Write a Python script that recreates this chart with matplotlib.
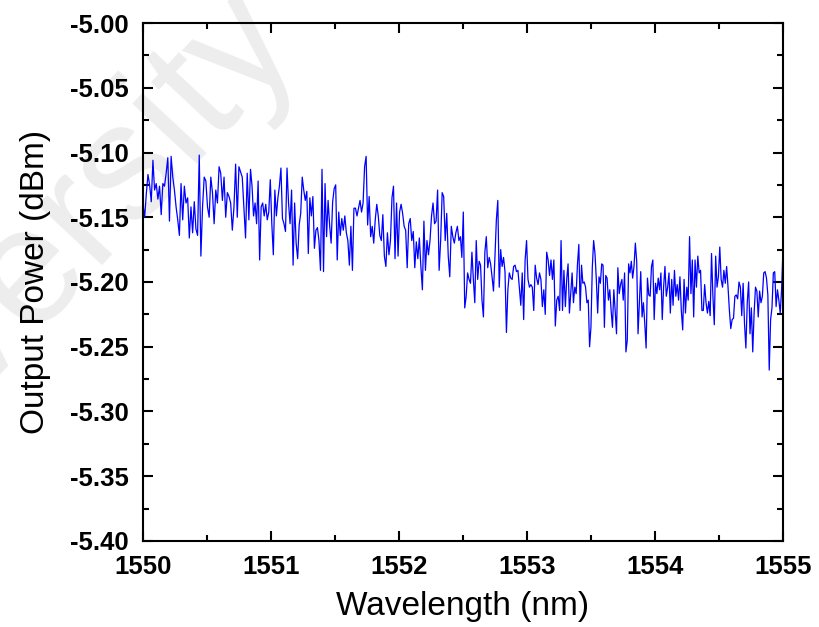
import numpy as np
import matplotlib
matplotlib.use("Agg")
import matplotlib.pyplot as plt
from matplotlib.ticker import MultipleLocator

# power readings (dBm) in six consecutive wavelength bands
band_edges = [1550.00, 1550.84, 1551.66, 1552.48, 1553.30, 1554.12, 1555.00]

power_1 = [-5.140, -5.150, -5.132, -5.117, -5.125, -5.138, -5.106, -5.129, -5.124, -5.136,
           -5.126, -5.148, -5.124, -5.126, -5.116, -5.104, -5.153, -5.103, -5.119, -5.129,
           -5.142, -5.152, -5.164, -5.124, -5.152, -5.126, -5.139, -5.135, -5.166, -5.142,
           -5.162, -5.138, -5.159, -5.164, -5.102, -5.180, -5.142, -5.119, -5.122, -5.142,
           -5.150, -5.119, -5.131, -5.155, -5.129, -5.139, -5.111, -5.116, -5.137, -5.119,
           -5.150, -5.131, -5.134, -5.139, -5.160, -5.142, -5.109, -5.150, -5.111, -5.115,
           -5.119, -5.142, -5.166, -5.116, -5.152]
power_2 = [-5.113, -5.126, -5.149, -5.139, -5.155, -5.122, -5.183, -5.142, -5.139, -5.149,
           -5.140, -5.152, -5.146, -5.121, -5.155, -5.179, -5.129, -5.149, -5.135, -5.126,
           -5.112, -5.151, -5.155, -5.161, -5.112, -5.139, -5.155, -5.129, -5.187, -5.139,
           -5.170, -5.182, -5.156, -5.147, -5.119, -5.129, -5.137, -5.130, -5.178, -5.135,
           -5.149, -5.134, -5.174, -5.160, -5.158, -5.168, -5.191, -5.113, -5.192, -5.124,
           -5.165, -5.137, -5.156, -5.170, -5.138, -5.128, -5.125, -5.183, -5.146, -5.164,
           -5.151, -5.160, -5.149, -5.162, -5.168, -5.187, -5.157, -5.191, -5.143]
power_3 = [-5.143, -5.149, -5.143, -5.137, -5.146, -5.139, -5.111, -5.103, -5.156, -5.134,
           -5.165, -5.157, -5.170, -5.152, -5.140, -5.149, -5.164, -5.168, -5.148, -5.180,
           -5.188, -5.162, -5.179, -5.168, -5.135, -5.126, -5.182, -5.139, -5.180, -5.146,
           -5.140, -5.147, -5.157, -5.160, -5.189, -5.155, -5.151, -5.168, -5.161, -5.189,
           -5.169, -5.182, -5.166, -5.188, -5.206, -5.153, -5.191, -5.168, -5.179, -5.168,
           -5.149, -5.139, -5.155, -5.153, -5.129, -5.191, -5.168, -5.131, -5.134, -5.168,
           -5.147, -5.180, -5.196, -5.157, -5.165, -5.170, -5.162, -5.157, -5.168]
power_4 = [-5.165, -5.181, -5.146, -5.220, -5.211, -5.193, -5.198, -5.201, -5.177, -5.198,
           -5.216, -5.168, -5.198, -5.184, -5.187, -5.214, -5.227, -5.177, -5.165, -5.189,
           -5.181, -5.186, -5.196, -5.207, -5.181, -5.152, -5.137, -5.204, -5.175, -5.188,
           -5.181, -5.192, -5.239, -5.206, -5.193, -5.197, -5.198, -5.188, -5.187, -5.192,
           -5.191, -5.204, -5.218, -5.193, -5.229, -5.183, -5.168, -5.198, -5.204, -5.202,
           -5.204, -5.222, -5.187, -5.197, -5.202, -5.193, -5.198, -5.219, -5.206, -5.225,
           -5.177, -5.183, -5.195, -5.183, -5.198, -5.183, -5.234, -5.214, -5.211, -5.222,
           -5.168, -5.222, -5.191]
power_5 = [-5.219, -5.198, -5.186, -5.224, -5.209, -5.193, -5.216, -5.204, -5.209, -5.186,
           -5.171, -5.222, -5.187, -5.201, -5.200, -5.204, -5.216, -5.214, -5.250, -5.235,
           -5.189, -5.168, -5.178, -5.198, -5.224, -5.196, -5.201, -5.186, -5.187, -5.235,
           -5.195, -5.197, -5.214, -5.206, -5.222, -5.235, -5.206, -5.222, -5.240, -5.189,
           -5.209, -5.202, -5.198, -5.214, -5.193, -5.254, -5.245, -5.186, -5.193, -5.184,
           -5.197, -5.188, -5.170, -5.184, -5.240, -5.216, -5.192, -5.227, -5.216, -5.232,
           -5.251, -5.197, -5.210, -5.211, -5.188, -5.183, -5.229, -5.201, -5.209, -5.197,
           -5.206, -5.193, -5.229, -5.204, -5.188, -5.211, -5.204, -5.193]
power_6 = [-5.224, -5.198, -5.218, -5.191, -5.211, -5.202, -5.214, -5.196, -5.222, -5.237,
           -5.198, -5.224, -5.204, -5.214, -5.165, -5.209, -5.183, -5.227, -5.183, -5.204,
           -5.180, -5.193, -5.191, -5.222, -5.222, -5.202, -5.216, -5.224, -5.215, -5.226,
           -5.178, -5.211, -5.233, -5.180, -5.204, -5.196, -5.173, -5.198, -5.204, -5.191,
           -5.201, -5.188, -5.204, -5.222, -5.236, -5.229, -5.228, -5.211, -5.210, -5.213,
           -5.200, -5.204, -5.226, -5.201, -5.232, -5.251, -5.216, -5.200, -5.240, -5.220,
           -5.254, -5.224, -5.204, -5.207, -5.227, -5.207, -5.216, -5.211, -5.193, -5.192,
           -5.197, -5.210, -5.268, -5.229, -5.220, -5.193, -5.192, -5.219, -5.206, -5.214,
           -5.224, -5.206, -5.175]

bands = [power_1, power_2, power_3, power_4, power_5, power_6]
wavelength = np.concatenate([np.linspace(band_edges[i], band_edges[i + 1], len(b), endpoint=(i == 5))
                             for i, b in enumerate(bands)])
power = np.concatenate(bands)

fig = plt.figure(figsize=(8.19, 6.27), dpi=100)
ax = fig.add_axes([0.1746, 0.1372, 0.7814, 0.8261])

# faint watermark behind everything
fig.text(0.366, 0.936, "University", fontsize=120, color="#ededed", rotation=47,
         rotation_mode="anchor", ha="right", va="baseline",
         family="Liberation Sans", zorder=-5)

ax.plot(wavelength, power, color="#0000ff", lw=0.9)
ax.set_xlim(1550, 1555)
ax.set_ylim(-5.40, -5.00)
ax.patch.set_alpha(0)

ax.xaxis.set_major_locator(MultipleLocator(1))
ax.xaxis.set_minor_locator(MultipleLocator(0.5))
ax.yaxis.set_major_locator(MultipleLocator(0.05))
ax.yaxis.set_minor_locator(MultipleLocator(0.025))
ax.yaxis.set_major_formatter(matplotlib.ticker.FormatStrFormatter("%.2f"))

ax.tick_params(which="both", direction="in", top=True, right=True, width=1.5)
ax.tick_params(which="major", length=7, pad=10)
ax.tick_params(which="minor", length=4)
for lab in ax.get_xticklabels() + ax.get_yticklabels():
    lab.set_fontfamily("Liberation Sans")
    lab.set_fontweight("bold")
    lab.set_fontsize(18.5)
for s in ax.spines.values():
    s.set_linewidth(1.5)

ax.set_xlabel("Wavelength (nm)", fontsize=24, family="Liberation Sans", labelpad=9)
ax.set_ylabel("Output Power (dBm)", fontsize=24, family="Liberation Sans", labelpad=14)

fig.savefig("out.png", dpi=100)
